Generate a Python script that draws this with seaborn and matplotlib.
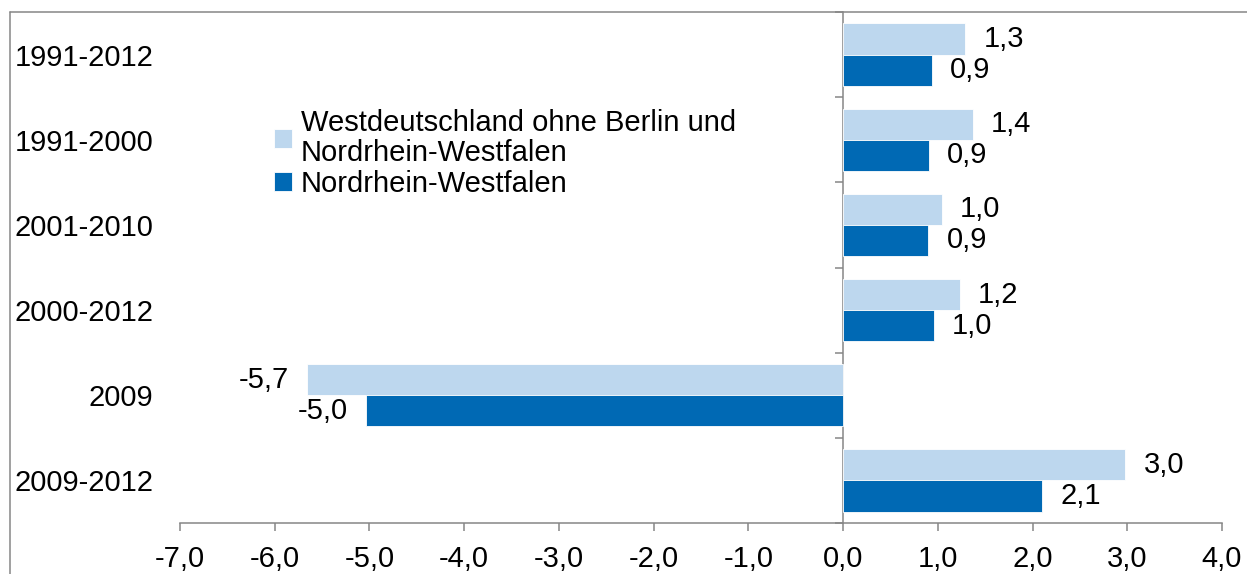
import matplotlib
matplotlib.use("Agg")
import matplotlib.pyplot as plt
import seaborn as sns
import pandas as pd
from matplotlib.lines import Line2D
from matplotlib.ticker import FuncFormatter

categories = ["1991-2012", "1991-2000", "2001-2010", "2000-2012", "2009", "2009-2012"]
series_names = ["Westdeutschland ohne Berlin und\nNordrhein-Westfalen", "Nordrhein-Westfalen"]
west_values = [1.29, 1.37, 1.04, 1.23, -5.66, 2.98]
nrw_values = [0.94, 0.91, 0.90, 0.96, -5.04, 2.10]
x_ticks = [-7, -6, -5, -4, -3, -2, -1, 0, 1, 2, 3, 4]

colors = ["#BDD7EE", "#0069B4"]
grey = "#868686"
FS = 21

sns.set_theme(style="white")
plt.rcParams["font.family"] = ["Liberation Sans", "DejaVu Sans"]
plt.rcParams["font.size"] = FS
plt.rcParams["text.color"] = "black"
plt.rcParams["xtick.color"] = "black"
plt.rcParams["ytick.color"] = "black"
plt.rcParams["axes.labelcolor"] = "black"

df = pd.DataFrame({
    "Zeitraum": categories * 2,
    "Wert": west_values + nrw_values,
    "Region": [series_names[0]] * len(categories) + [series_names[1]] * len(categories),
})

fig = plt.figure(figsize=(12.47, 5.74), dpi=100)
ax = fig.add_axes([180 / 1247, 51 / 574, 1042 / 1247, 511 / 574])

sns.barplot(data=df, y="Zeitraum", x="Wert", hue="Region", order=categories,
            hue_order=series_names, palette=colors, saturation=1, orient="h", width=0.73,
            edgecolor="white", linewidth=0.6, ax=ax)

ax.set_xlim(-7, 4)
ax.set_ylim(5.5, -0.5)
ax.set_xlabel("")
ax.set_ylabel("")

comma = lambda v: f"{v:.1f}".replace(".", ",")
for cont in ax.containers:
    ax.bar_label(cont, labels=[comma(b.get_width()) for b in cont], padding=13,
                 fontsize=FS, color="black")

ax.set_xticks(x_ticks)
ax.xaxis.set_major_formatter(FuncFormatter(lambda v, p: comma(v)))
ax.tick_params(axis="x", direction="out", length=6, width=1.1, color=grey,
               labelsize=FS, labelcolor="black", pad=10, bottom=True)
ax.tick_params(axis="y", length=0, pad=19, labelsize=FS, labelcolor="black")

for s in ["top", "right", "left"]:
    ax.spines[s].set_visible(False)
ax.spines["bottom"].set_color(grey)
ax.spines["bottom"].set_linewidth(1.1)

# vertical axis at zero with category boundary ticks
sec = ax.secondary_yaxis(7 / 11)
sec.set_yticks([i - 0.5 for i in range(len(categories) + 1)])
sec.set_yticklabels([])
sec.tick_params(axis="y", direction="in", length=6, width=1.1, color=grey)
for s in ["left", "top", "bottom"]:
    sec.spines[s].set_visible(False)
sec.spines["right"].set_visible(True)
sec.spines["right"].set_color(grey)
sec.spines["right"].set_linewidth(1.1)

leg = ax.legend(loc="upper left", bbox_to_anchor=(0.09, 0.81), frameon=False,
                fontsize=FS, handlelength=0.62, handleheight=0.62, handletextpad=0.3,
                labelspacing=0.1, borderpad=0, borderaxespad=0)
for t in leg.get_texts():
    t.set_color("black")
    t.set_linespacing(1.1)

# outer frame (partly cut off)
fig.add_artist(Line2D([10 / 1247, 1.0], [1 - 12 / 574] * 2, transform=fig.transFigure, color=grey, lw=1.1))
fig.add_artist(Line2D([10 / 1247] * 2, [0.0, 1 - 12 / 574], transform=fig.transFigure, color=grey, lw=1.1))

fig.savefig("out.png", dpi=100)
